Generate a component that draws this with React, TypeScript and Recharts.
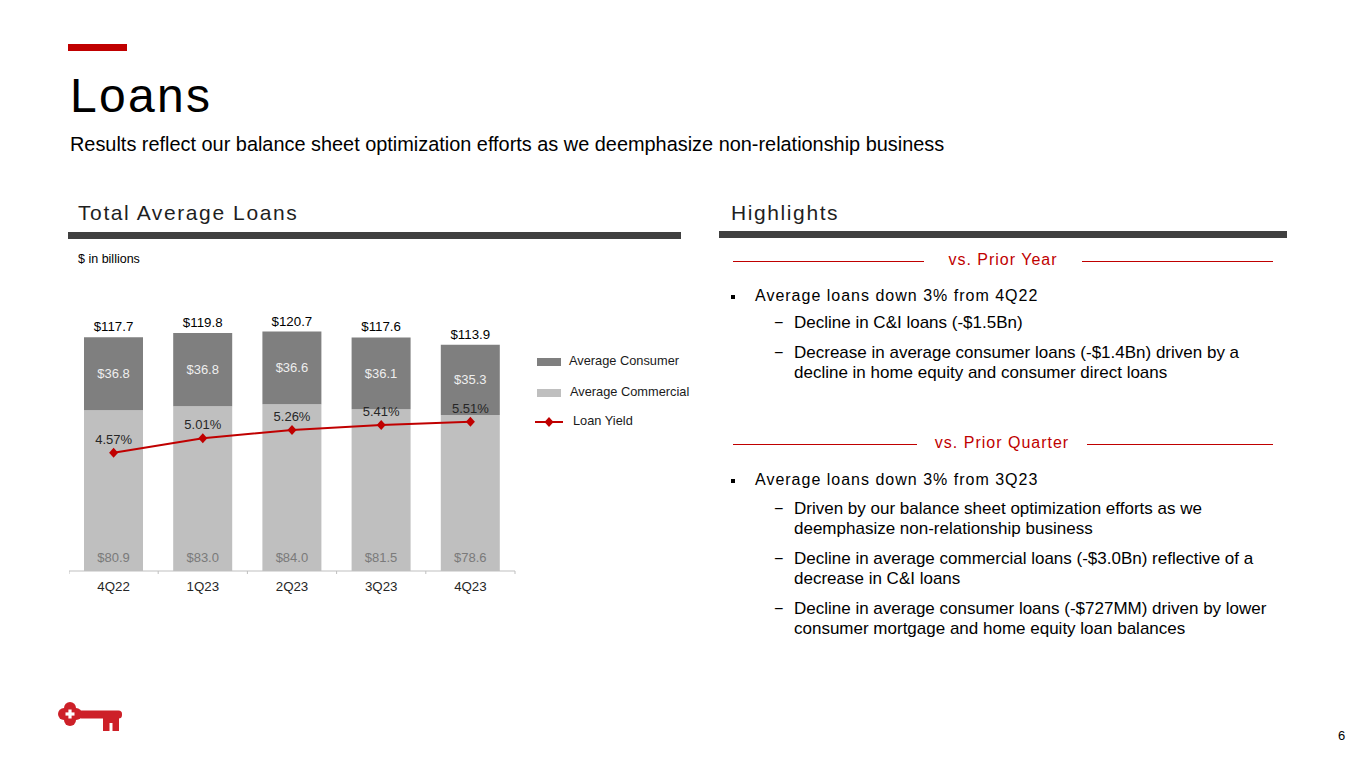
import React from "react";
import { Bar, ComposedChart, LabelList, Line, XAxis, YAxis } from "recharts";

const quarters = ["4Q22", "1Q23", "2Q23", "3Q23", "4Q23"];
const commercial = [80.9, 83.0, 84.0, 81.5, 78.6];
const consumer = [36.8, 36.8, 36.6, 36.1, 35.3];
const totals = [117.7, 119.8, 120.7, 117.6, 113.9];
const loanYield = [4.57, 5.01, 5.26, 5.41, 5.51];

const priorYear = {
  main: "Average loans down 3% from 4Q22",
  subs: [
    ["Decline in C&I loans (-$1.5Bn)"],
    ["Decrease in average consumer loans (-$1.4Bn) driven by a", "decline in home equity and consumer direct loans"],
  ],
};
const priorQuarter = {
  main: "Average loans down 3% from 3Q23",
  subs: [
    ["Driven by our balance sheet optimization efforts as we", "deemphasize non-relationship business"],
    ["Decline in average commercial loans (-$3.0Bn) reflective of a", "decrease in C&I loans"],
    ["Decline in average consumer loans (-$727MM) driven by lower", "consumer mortgage and home equity loan balances"],
  ],
};

const data = quarters.map((q, i) => ({
  quarter: q,
  commercial: commercial[i],
  consumer: consumer[i],
  total: totals[i],
  yield: loanYield[i],
}));

const RED = "#c00000";
const DARK_GRAY = "#7f7f7f";
const LIGHT_GRAY = "#bfbfbf";
const FONT = "'Liberation Sans', Arial, sans-serif";

const PLOT_W = 446;
const BAND = PLOT_W / quarters.length;

const money = (v: any) => `$${Number(v).toFixed(1)}`;
const pct = (v: any) => `${Number(v).toFixed(2)}%`;

const QuarterTick = ({ x, y, payload, index }: any) => (
  <g>
    <line x1={x - BAND / 2} x2={x - BAND / 2} y1={y - 3} y2={y} stroke={LIGHT_GRAY} />
    {index === quarters.length - 1 && (
      <line x1={x + BAND / 2} x2={x + BAND / 2} y1={y - 3} y2={y} stroke={LIGHT_GRAY} />
    )}
    <text x={x} y={y + 17} textAnchor="middle" fontSize={13.3} fill="#262626">
      {payload.value}
    </text>
  </g>
);

const Diamond = (props: any) => {
  const { cx, cy, index } = props;
  if (cx == null || cy == null) return <g key={index} />;
  return (
    <path
      key={index}
      d={`M${cx},${cy - 5} L${cx + 4.5},${cy} L${cx},${cy + 5} L${cx - 4.5},${cy} Z`}
      fill={RED}
    />
  );
};

// positioned text helper: cy is the visual middle of the line
const T = ({ x, cy, size, children, color = "#000", spacing = 0, anchor = "left" }: any) => (
  <div
    style={{
      position: "absolute",
      left: anchor === "center" ? x - 300 : x,
      width: anchor === "center" ? 600 : undefined,
      textAlign: anchor === "center" ? "center" : "left",
      top: cy - size * 0.56,
      fontSize: size,
      lineHeight: `${size}px`,
      color,
      letterSpacing: spacing,
      whiteSpace: "nowrap",
    }}
  >
    {children}
  </div>
);

const Box = ({ x, y, w, h, color }: any) => (
  <div style={{ position: "absolute", left: x, top: y, width: w, height: h, background: color }} />
);

const SectionTitle = ({ cy, title, left, right }: any) => (
  <>
    <Box x={733} y={cy} w={left - 733} h={1} color={RED} />
    <Box x={right} y={cy} w={1273 - right} h={1} color={RED} />
    <T x={(left + right) / 2} cy={cy} size={16} color={RED} spacing={1} anchor="center">
      {title}
    </T>
  </>
);

const BulletBlock = ({ block, mainY, subYs }: any) => (
  <>
    <Box x={731} y={mainY - 2} w={4} h={4} color="#000" />
    <T x={755} cy={mainY} size={16} spacing={1}>
      {block.main}
    </T>
    {block.subs.map((lines: string[], i: number) => (
      <React.Fragment key={i}>
        <T x={774} cy={subYs[i]} size={16}>
          −
        </T>
        {lines.map((line, j) => (
          <T key={j} x={794} cy={subYs[i] + j * 20} size={17}>
            {line}
          </T>
        ))}
      </React.Fragment>
    ))}
  </>
);

const KeyLogo = () => (
  <svg style={{ position: "absolute", left: 54, top: 698 }} width={72} height={38}>
    <g fill="#cd2028">
      <circle cx={16} cy={10} r={6} />
      <circle cx={16} cy={22} r={6} />
      <circle cx={10} cy={16} r={6} />
      <circle cx={22} cy={16} r={6} />
      <rect x={10} y={10} width={12} height={12} />
      <rect x={24} y={12.5} width={44} height={8} rx={3.5} />
      <rect x={49} y={20} width={6.5} height={13} />
      <rect x={58.5} y={20} width={6.5} height={13} />
      <rect x={49} y={20} width={16} height={5} />
    </g>
    <g fill="#fff">
      <rect x={14.4} y={11.5} width={3.2} height={9} />
      <rect x={11.5} y={14.4} width={9} height={3.2} />
    </g>
  </svg>
);

const legendItems = [
  { label: "Average Consumer", kind: "box", color: DARK_GRAY, cy: 362, tx: 569 },
  { label: "Average Commercial", kind: "box", color: LIGHT_GRAY, cy: 393, tx: 570 },
  { label: "Loan Yield", kind: "line", color: RED, cy: 422, tx: 573 },
];

const ChartLegend = () => (
  <>
    {legendItems.map((it) => (
      <React.Fragment key={it.label}>
        {it.kind === "box" ? (
          <Box x={537} y={it.cy - 4} w={24} h={8} color={it.color} />
        ) : (
          <svg style={{ position: "absolute", left: 535, top: it.cy - 6 }} width={30} height={12}>
            <line x1={0} x2={28} y1={6} y2={6} stroke={it.color} strokeWidth={2} />
            <path d="M14,1 L18.5,6 L14,11 L9.5,6 Z" fill={it.color} />
          </svg>
        )}
        <T x={it.tx} cy={it.cy} size={12.8} color="#1a1a1a">
          {it.label}
        </T>
      </React.Fragment>
    ))}
  </>
);

export default function App() {
  return (
    <div
      style={{
        position: "absolute",
        left: 0,
        top: 0,
        width: 1365,
        height: 768,
        background: "#fff",
        fontFamily: FONT,
        overflow: "hidden",
      }}
    >
      <Box x={68} y={44} w={59} h={7} color={RED} />
      <div
        style={{
          position: "absolute",
          left: 70,
          top: 72,
          fontSize: 48,
          lineHeight: "48px",
          letterSpacing: 2.3,
          color: "#000",
        }}
      >
        Loans
      </div>
      <div style={{ position: "absolute", left: 70, top: 134, fontSize: 19.9, lineHeight: "20px", color: "#000" }}>
        Results reflect our balance sheet optimization efforts as we deemphasize non-relationship business
      </div>

      <T x={78} cy={214} size={21} spacing={1.6} color="#1f1f1f">
        Total Average Loans
      </T>
      <T x={731} cy={214} size={21} spacing={1.6} color="#1f1f1f">
        Highlights
      </T>
      <Box x={68} y={232} w={613} h={7} color="#404040" />
      <Box x={719} y={231} w={568} h={7} color="#404040" />

      <T x={78} cy={260} size={12.5} color="#000">
        $ in billions
      </T>

      <div style={{ position: "absolute", left: 69, top: 260 }}>
        <ComposedChart
          width={632}
          height={341}
          data={data}
          margin={{ top: 33, right: 186, left: 0, bottom: 0 }}
        >
          <XAxis
            dataKey="quarter"
            height={30}
            interval={0}
            tickSize={3}
            tickMargin={0}
            tickLine={false}
            axisLine={{ stroke: LIGHT_GRAY }}
            tick={<QuarterTick />}
          />
          <YAxis yAxisId="amt" hide domain={[0, 140]} />
          <YAxis yAxisId="pct" hide orientation="right" domain={[1, 9.4]} />
          <Bar yAxisId="amt" dataKey="commercial" stackId="a" fill={LIGHT_GRAY} barSize={59} isAnimationActive={false}>
            <LabelList dataKey="commercial" position="insideBottom" offset={9} fill="#7a7a7a" fontSize={13} formatter={money} />
          </Bar>
          <Bar yAxisId="amt" dataKey="consumer" stackId="a" fill={DARK_GRAY} barSize={59} isAnimationActive={false}>
            <LabelList dataKey="consumer" position="center" fill="#eeeeee" fontSize={13} formatter={money} />
            <LabelList dataKey="total" position="top" offset={6} fill="#000" fontSize={13.3} formatter={money} />
          </Bar>
          <Line
            yAxisId="pct"
            dataKey="yield"
            stroke={RED}
            strokeWidth={2}
            dot={Diamond}
            activeDot={false}
            isAnimationActive={false}
          >
            <LabelList dataKey="yield" position="top" offset={9} fill="#262626" fontSize={13} formatter={pct} />
          </Line>
        </ComposedChart>
      </div>

      <ChartLegend />

      <SectionTitle cy={261} title="vs. Prior Year" left={924} right={1082} />
      <BulletBlock block={priorYear} mainY={297} subYs={[324, 354]} />

      <SectionTitle cy={444} title="vs. Prior Quarter" left={917} right={1087} />
      <BulletBlock block={priorQuarter} mainY={481} subYs={[510, 560, 610]} />

      <KeyLogo />
      <T x={1338} cy={736} size={13} color="#000">
        6
      </T>
    </div>
  );
}
